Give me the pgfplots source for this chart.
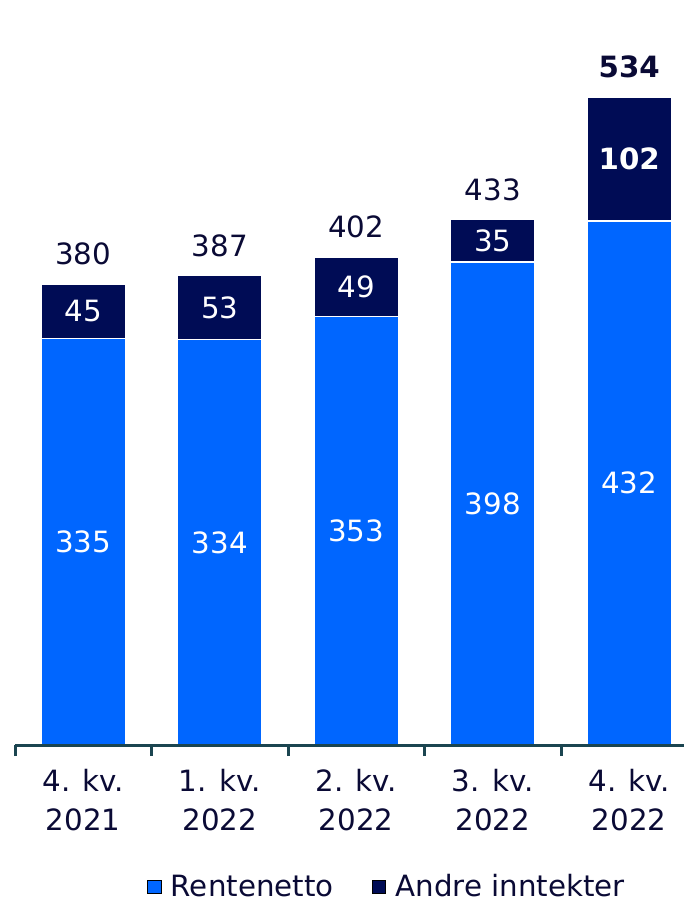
\documentclass[border=0pt]{standalone}
\usepackage{pgfplots}
\pgfplotsset{compat=1.18}
\usepackage{pgfplotstable}
\usepackage{fontspec}
\setmainfont{DejaVu Sans}
\definecolor{cblue}{HTML}{0066FF}
\definecolor{cnavy}{HTML}{000C55}
\definecolor{ctext}{HTML}{0A0A35}
\definecolor{caxis}{HTML}{1B4550}

\pgfplotstableread{
x r a tot
0 335 45 380
1 334 53 387
2 353 49 402
3 398 35 433
4 432 102 534
}\data

\begin{document}
\begin{tikzpicture}
\path[use as bounding box] (-15pt,-156pt) rectangle (668.85pt,745pt);
\begin{axis}[
  scale only axis, width=668.85pt, height=745pt,
  xmin=-0.5, xmax=4.4, ymin=0, ymax=614,
  axis on top,
  axis x line=bottom, axis y line=none,
  x axis line style={-, draw=caxis, line width=3pt},
  xtick={0,1,2,3,4},
  xticklabels={{4. kv.\\2021},{1. kv.\\2022},{2. kv.\\2022},{3. kv.\\2022},{4. kv.\\2022}},
  major tick length=0pt,
  minor xtick={-0.5,0.5,1.5,2.5,3.5},
  minor tick length=11pt,
  tick align=outside,
  minor tick style={draw=caxis, line width=3pt},
  xticklabel style={align=center, font=\fontsize{29.3}{39}\selectfont, text=ctext, yshift=-21pt},
  clip=false,
  legend image code/.code={\fill[#1] (0pt,-6.75pt) rectangle (13.5pt,6.75pt);},
  legend style={at={(0.556,-0.19)}, anchor=center, draw=none, fill=none,
    font=\fontsize{29.3}{31}\selectfont, text=ctext, legend columns=2,
    /tikz/every odd column/.append style={column sep=8pt},
    /tikz/every even column/.append style={column sep=36pt}},
]
\addplot[ybar, bar width=84.5pt, bar shift=0pt, fill=cnavy, draw=white, line width=1.5pt, forget plot] table[x=x,y=tot]{\data};
\addplot[ybar, bar width=84.5pt, bar shift=0pt, fill=cblue, draw=white, line width=1.5pt, forget plot] table[x=x,y=r]{\data};
% Rentenetto labels
\addplot[draw=none, mark=none, forget plot, nodes near coords, point meta=explicit symbolic,
  every node near coord/.style={anchor=center, text=white, font=\fontsize{29.3}{31}\selectfont}]
  table[x=x, y expr=\thisrow{r}/2, meta=r]{\data};
% Andre inntekter labels
\addplot[draw=none, mark=none, forget plot, nodes near coords, point meta=explicit symbolic,
  restrict x to domain=0:3,
  every node near coord/.style={anchor=center, text=white, font=\fontsize{29.3}{31}\selectfont}]
  table[x=x, y expr=\thisrow{r}+\thisrow{a}/2, meta=a]{\data};
\addplot[draw=none, mark=none, forget plot, nodes near coords, point meta=explicit symbolic,
  restrict x to domain=3.5:4.5,
  every node near coord/.style={anchor=center, text=white, font=\fontsize{29.3}{31}\selectfont\bfseries}]
  table[x=x, y expr=\thisrow{r}+\thisrow{a}/2, meta=a]{\data};
% totals
\addplot[draw=none, mark=none, forget plot, nodes near coords, point meta=explicit symbolic,
  restrict x to domain=0:3,
  every node near coord/.style={anchor=center, text=ctext, yshift=30pt, font=\fontsize{29.3}{31}\selectfont}]
  table[x=x, y=tot, meta=tot]{\data};
\addplot[draw=none, mark=none, forget plot, nodes near coords, point meta=explicit symbolic,
  restrict x to domain=3.5:4.5,
  every node near coord/.style={anchor=center, text=ctext, yshift=30pt, font=\fontsize{29.3}{31}\selectfont\bfseries}]
  table[x=x, y=tot, meta=tot]{\data};
\addlegendimage{fill=cblue}\addlegendentry{Rentenetto}
\addlegendimage{fill=cnavy}\addlegendentry{Andre inntekter}
\end{axis}
\end{tikzpicture}
\end{document}
